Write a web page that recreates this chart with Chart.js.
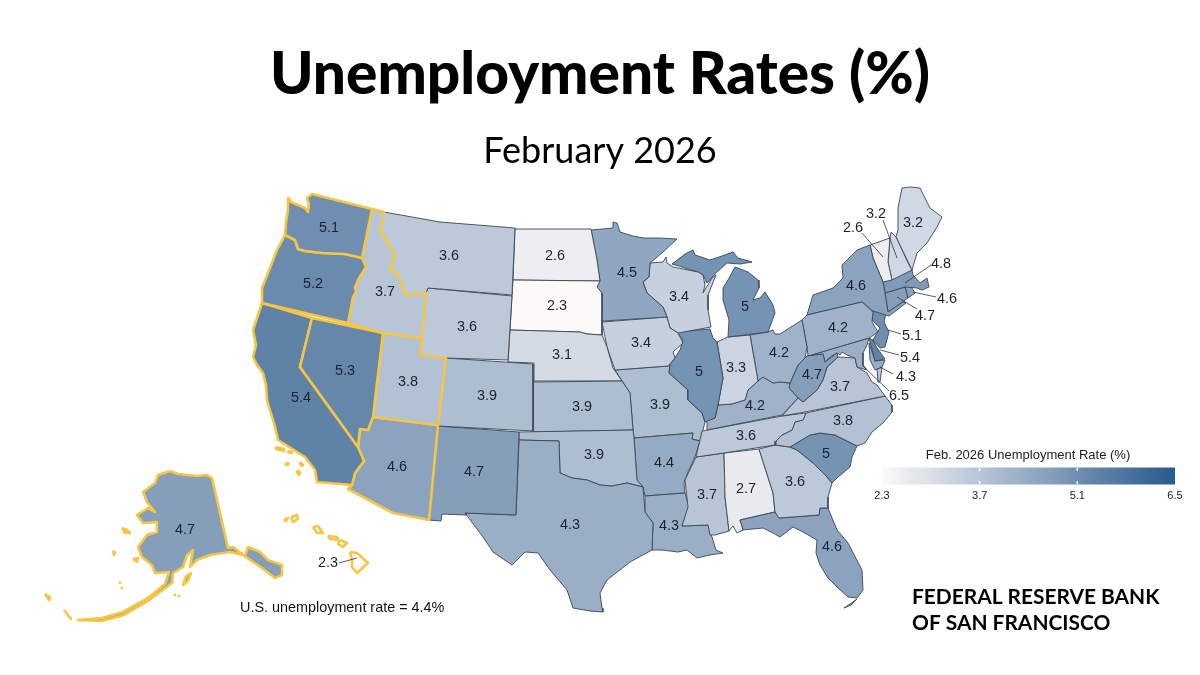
<!DOCTYPE html>
<html>
<head>
<meta charset="utf-8">
<style>
  html, body { margin: 0; padding: 0; background: #fff; }
  canvas { display: block; }
</style>
<script src="https://cdn.jsdelivr.net/npm/chart.js"></script>
</head>
<body>
<canvas id="map" width="1200" height="675"></canvas>
<script>
const WA = [[288,197],[291,202],[305,208],[308,212],[309,204],[307,198],[312,194],[372,209],[362,258],[345,254],[322,253],[305,251],[298,249],[295,240],[285,235],[286,222],[288,210]]
const OR = [[285,235],[295,240],[298,249],[305,251],[322,253],[345,254],[362,258],[366,267],[359,278],[355,287],[356,292],[353,297],[348,323],[262,303],[262,288],[268,273],[277,250]]
const ID = [[372,209],[384,212],[380,230],[395,255],[390,270],[397,273],[406,295],[426,293],[422,338],[383,333],[348,323],[353,297],[356,292],[355,287],[359,278],[366,267],[362,258]]
const MT = [[384,212],[440,222],[515,228],[512,295],[428,288],[426,293],[406,295],[397,273],[390,270],[395,255],[380,230]]
const WY = [[428,288],[512,296],[508,360],[446,358],[420,355],[422,338],[426,293]]
const NV = [[312,318],[383,333],[373,417],[368,430],[360,429],[358,447],[300,367]]
const UT = [[383,333],[422,338],[420,355],[446,358],[438,425],[373,417]]
const CO = [[446,358],[533,364],[533,431],[438,426]]
const CA = [[262,303],[312,318],[300,367],[358,447],[364,461],[355,473],[352,485],[317,482],[315,470],[305,457],[278,440],[275,427],[267,400],[266,385],[263,373],[257,365],[253,357],[256,345],[253,330]]
const CA_I1 = [[276,447],[284,449],[284,451],[276,449]]
const CA_I2 = [[288,451],[292,452],[292,453],[288,452]]
const CA_I3 = [[286,463],[288,463],[288,465],[286,465]]
const CA_I4 = [[300,462],[303,465],[302,466],[300,464]]
const CA_I5 = [[298,470],[300,473],[299,475],[297,472]]
const AZ = [[373,417],[438,425],[429,520],[393,513],[348,489],[352,485],[355,473],[364,461],[358,447],[360,429],[368,430]]
const NM = [[438,426],[519,432],[516,515],[465,513],[466,515],[442,514],[441,521],[429,520]]
const TX = [[519,440],[559,441],[560,473],[572,478],[587,480],[600,485],[612,486],[627,483],[643,487],[645,512],[653,523],[652,550],[630,562],[607,580],[600,593],[602,608],[603,612],[590,611],[573,608],[567,590],[550,570],[538,553],[525,552],[512,565],[493,552],[483,537],[465,513],[516,515]]
const OK = [[519,432],[633,430],[634,438],[637,480],[643,487],[627,483],[612,486],[600,485],[587,480],[572,478],[560,473],[559,441],[519,440]]
const KS = [[533,382],[622,381],[630,393],[633,430],[533,432]]
const NE = [[510,330],[580,332],[587,334],[602,335],[607,347],[613,368],[622,381],[534,381],[534,363],[508,362]]
const SD = [[513,280],[600,281],[597,287],[602,293],[602,335],[587,334],[580,332],[510,330]]
const ND = [[515,229],[591,229],[597,260],[600,281],[513,280]]
const MN = [[591,230],[613,228],[613,222],[617,223],[620,232],[633,236],[643,238],[660,238],[677,239],[663,252],[650,263],[649,277],[643,282],[647,293],[663,307],[667,317],[603,321],[602,293],[597,287],[600,281],[597,260]]
const IA = [[602,322],[667,317],[670,328],[678,333],[683,343],[673,352],[675,358],[668,366],[615,370],[607,347]]
const WI = [[650,263],[663,262],[666,257],[667,263],[673,267],[698,272],[703,275],[705,285],[703,293],[712,278],[716,275],[708,295],[708,310],[711,327],[678,333],[670,328],[667,317],[663,307],[647,293],[643,282],[649,277]]
const MI_U = [[672,264],[685,254],[693,250],[695,255],[710,260],[722,256],[733,252],[738,258],[752,262],[740,264],[727,263],[717,272],[707,283],[703,275],[698,272]]
const MI_L = [[735,267],[748,272],[758,280],[759,288],[753,300],[760,298],[765,292],[773,305],[775,313],[768,332],[728,337],[729,320],[723,300],[723,288],[728,280]]
const IL = [[677,332],[710,329],[713,338],[717,342],[723,378],[718,405],[715,418],[705,422],[702,413],[688,400],[688,390],[669,373],[670,365],[680,350],[683,340]]
const IN = [[717,342],[728,337],[750,335],[758,381],[748,390],[745,400],[732,404],[718,405],[723,378]]
const OH = [[750,335],[768,332],[773,330],[775,334],[780,334],[802,320],[807,347],[805,358],[798,365],[790,383],[780,382],[773,383],[763,377],[758,381]]
const KY = [[718,405],[732,404],[745,400],[748,390],[758,381],[763,377],[773,383],[780,382],[790,383],[789,388],[798,398],[782,415],[707,430],[707,420],[715,418]]
const WV = [[790,383],[798,365],[805,358],[807,356],[823,354],[825,362],[837,353],[838,357],[827,367],[823,380],[817,390],[803,402],[798,398],[789,388]]
const PA = [[802,320],[807,315],[862,302],[873,312],[872,322],[878,332],[869,338],[808,356],[807,347]]
const NY = [[807,315],[813,295],[833,288],[843,278],[842,265],[857,250],[870,245],[873,258],[883,282],[885,293],[888,312],[903,302],[906,303],[889,316],[873,311],[862,302]]
const VT = [[870,245],[890,238],[888,262],[892,280],[883,282],[873,258]]
const NH = [[891,232],[896,237],[910,267],[912,270],[892,280],[888,262],[890,238]]
const ME = [[898,230],[898,208],[902,188],[910,187],[920,188],[930,208],[942,217],[937,227],[927,243],[917,253],[912,270],[896,237]]
const MA = [[883,282],[912,270],[913,275],[920,283],[927,278],[929,287],[922,290],[917,288],[905,287],[885,293]]
const CT = [[885,293],[905,287],[908,298],[888,312]]
const RI = [[905,287],[910,285],[915,293],[908,298]]
const NJ = [[873,310],[886,313],[884,322],[889,332],[885,347],[880,348],[873,340],[880,328],[872,320]]
const DE = [[869,338],[873,340],[877,348],[885,359],[875,361]]
const MD_W = [[808,356],[869,338],[867,345],[863,353],[863,365],[867,370],[857,367],[855,358],[847,355],[842,352],[840,355],[837,353],[830,357],[825,362],[823,354]]
const MD_E = [[869,343],[875,361],[885,360],[882,367],[875,370],[870,360]]
const DC = [[856,356],[859,357],[858,360],[856,359]]
const VA = [[782,416],[798,398],[803,402],[817,390],[823,380],[827,367],[838,357],[855,358],[857,367],[867,373],[872,382],[877,385],[885,396],[805,412]]
const VA_E = [[877,369],[882,367],[880,382],[878,382]]
const TN = [[702,431],[782,416],[806,413],[803,420],[795,422],[792,430],[782,435],[776,441],[775,445],[724,453],[696,457],[700,440]]
const NC = [[806,413],[885,396],[892,405],[892,412],[883,423],[872,432],[865,443],[857,446],[835,435],[820,433],[810,435],[790,447],[775,445],[776,441],[782,435],[792,430],[795,422],[803,420]]
const SC = [[790,447],[810,435],[820,433],[835,435],[857,446],[852,457],[850,467],[837,478],[832,483],[827,477],[813,463],[797,450]]
const GA = [[759,449],[775,445],[790,447],[797,450],[813,463],[827,477],[832,483],[828,497],[828,508],[820,508],[819,515],[779,518],[775,512],[773,493]]
const FL = [[740,520],[775,512],[779,518],[819,515],[820,508],[828,508],[837,530],[848,543],[862,570],[863,590],[857,598],[848,597],[837,587],[828,578],[820,565],[816,553],[817,540],[803,532],[793,527],[780,537],[773,533],[763,528],[743,530],[742,526]]
const FL_K = [[844,608],[850,604],[857,599],[851,605]]
const AL = [[724,453],[759,449],[773,493],[775,512],[740,520],[742,526],[743,530],[737,533],[733,526],[729,531],[725,497]]
const MS = [[696,457],[724,453],[725,497],[729,531],[715,535],[710,535],[708,525],[682,526],[688,507],[685,480]]
const LA = [[645,496],[685,493],[689,507],[682,526],[708,525],[712,537],[716,550],[723,553],[710,555],[697,558],[687,550],[678,552],[662,550],[652,550],[653,523],[645,512]]
const AR = [[634,438],[693,433],[692,439],[700,441],[695,457],[688,472],[684,483],[685,493],[645,496],[643,487],[637,480]]
const MO = [[622,381],[615,370],[668,366],[670,365],[669,373],[688,390],[688,400],[702,413],[705,422],[703,430],[700,441],[692,439],[693,433],[634,438],[633,430],[630,393]]
const AK = [[170,471],[178,474],[187,475],[197,476],[207,475],[212,478],[228,548],[233,547],[245,556],[248,547],[260,552],[268,560],[282,565],[282,575],[275,578],[262,568],[243,555],[230,552],[210,555],[197,560],[190,567],[193,550],[187,555],[183,567],[173,573],[172,583],[160,592],[148,601],[124,615],[102,621],[78,620],[102,618],[123,612],[148,598],[165,584],[169,572],[155,573],[152,565],[142,557],[138,547],[147,535],[157,532],[157,522],[143,523],[137,515],[148,508],[155,512],[147,502],[143,492],[155,483],[158,475]]
const AK_I1 = [[122,528],[127,530],[130,533],[125,533]]
const AK_I2 = [[113,551],[115,553],[114,555]]
const AK_I3 = [[133,559],[138,558],[137,562]]
const AK_I4 = [[186,576],[191,573],[188,581],[183,585]]
const AK_I5 = [[119,582],[120,583]]
const AK_I6 = [[121,587],[122,588]]
const AK_I7 = [[45,594],[50,597],[49,600]]
const AK_I8 = [[64,610],[68,615],[71,619]]
const AK_I9 = [[174,594],[175,595]]
const AK_I10 = [[178,595],[179,596]]
const AK_I11 = [[252,556],[262,561],[272,570],[262,564]]
const HI_1 = [[350,552],[357,553],[368,563],[357,573],[352,567],[352,560]]
const HI_2 = [[340,540],[347,543],[343,547],[338,544]]
const HI_3 = [[328,536],[337,537],[338,540],[330,539]]
const HI_4 = [[313,527],[318,526],[323,533],[317,533]]
const HI_5 = [[291,517],[297,515],[298,519],[293,522]]
const HI_6 = [[284,520],[288,518],[286,521]]

const regionNames = ['WA','OR','ID','MT','WY','NV','UT','CO','CA','AZ','NM','TX','OK','KS','NE','SD','ND','MN','IA','WI','MI','IL','IN','OH','KY','WV','PA','NY','VT','NH','ME','MA','CT','RI','NJ','DE','MD','DC','VA','TN','NC','SC','GA','FL','AL','MS','LA','AR','MO','AK','HI']
const regionValues = [5.1,5.2,3.7,3.6,3.6,5.3,3.8,3.9,5.4,4.6,4.7,4.3,3.9,3.9,3.1,2.3,2.6,4.5,3.4,3.4,5,5,3.3,4.2,4.2,4.7,4.2,4.6,2.6,3.2,3.2,4.8,4.7,4.6,5.1,5.4,4.3,6.5,3.7,3.6,3.8,5,3.6,4.6,2.7,3.7,4.3,4.4,3.9,4.7,2.3]
const regionShapes = [[WA],[OR],[ID],[MT],[WY],[NV],[UT],[CO],[CA,CA_I1,CA_I2,CA_I3,CA_I4,CA_I5],[AZ],[NM],[TX],[OK],[KS],[NE],[SD],[ND],[MN],[IA],[WI],[MI_U,MI_L],[IL],[IN],[OH],[KY],[WV],[PA],[NY],[VT],[NH],[ME],[MA],[CT],[RI],[NJ],[DE],[MD_W,MD_E],[DC],[VA,VA_E],[TN],[NC],[SC],[GA],[FL,FL_K],[AL],[MS],[LA],[AR],[MO],[AK,AK_I1,AK_I2,AK_I3,AK_I4,AK_I5,AK_I6,AK_I7,AK_I8,AK_I9,AK_I10,AK_I11],[HI_1,HI_2,HI_3,HI_4,HI_5,HI_6]]
const district12 = ['WA','OR','ID','NV','UT','CA','AZ','AK','HI']

// value labels: [state, x, y]
const labelStates = ['WA','OR','CA','NV','ID','MT','WY','UT','CO','AZ','NM','ND','SD','NE','KS','OK','TX','MN','IA','MO','AR','LA','WI','IL','IN','MI','OH','KY','TN','MS','AL','GA','FL','SC','NC','VA','WV','PA','NY','ME','AK','VT','NH','MA','RI','CT','NJ','DE','MD','DC','HI']
const labelX = [329,313,301,345,385,449,467,408,487,397,474,555,557,562,582,594,570,627,641,660,664,669,679,699,736,745,779,755,746,707,746,795,832,826,843,840,812,838,856,913,185,853,876,941,947,925,912,910,906,899,328]
const labelY = [228,284,398,371,292,256,327,382,396,467,472,256,306,355,407,455,525,273,343,405,463,526,297,372,368,307,353,406,436,495,489,482,547,454,421,387,375,328,286,223,530,228,214,264,299,316,336,358,377,396,563]

// leader lines from the small states out to their labels
const leaderLines = [
  [[862,233],[883,257]], [[883,220],[897,258]], [[931,265],[905,283]], [[936,297],[913,292]],
  [[917,309],[897,297]], [[901,334],[888,330]], [[899,355],[880,350]], [[893,374],[880,367]],
  [[889,391],[862,365]], [[339,563],[357,558]]
]

const legendMin = 2.3
const legendMax = 6.5
const legendTicks = [2.3, 3.7, 5.1, 6.5]
const legendBar = [[882,476],[1175,476]]
const colorValues = [2.3, 3.6, 4.6, 5.4, 6.5]
const colorSteps = ['#fdf9f8', '#bcc9d9', '#8ba3be', '#5f83a7', '#275a8e']

function hexRgb(h) {
  return [parseInt(h.slice(1,3),16), parseInt(h.slice(3,5),16), parseInt(h.slice(5,7),16)]
}

function colorFor(v) {
  for (let i = 0; i < colorValues.length - 1; i++) {
    if (v <= colorValues[i+1]) {
      const t = (v - colorValues[i]) / (colorValues[i+1] - colorValues[i])
      const a = hexRgb(colorSteps[i]), b = hexRgb(colorSteps[i+1])
      return `rgb(${a.map((c, k) => Math.round(c + (b[k]-c)*t)).join(',')})`
    }
  }
  return colorSteps[colorSteps.length-1]
}

function toPoints(list) {
  return list.map(p => ({x: p[0], y: p[1]}))
}

const datasets = []

regionNames.forEach((name, i) => {
  const yellow = district12.includes(name)
  regionShapes[i].forEach(part => {
    const pts = toPoints(part)
    pts.push(pts[0])
    datasets.push({
      data: pts,
      closedShape: true,
      showLine: true,
      fill: false,
      backgroundColor: colorFor(regionValues[i]),
      borderColor: yellow ? '#f6c544' : '#3b4656',
      borderWidth: yellow ? 2.6 : 0.9,
      borderJoinStyle: 'round',
      pointRadius: 0,
      order: yellow ? 1 : 2
    })
  })
})

leaderLines.forEach(l => {
  datasets.push({
    data: toPoints(l),
    showLine: true,
    borderColor: '#333',
    borderWidth: 0.8,
    pointRadius: 0,
    order: 0
  })
})

// legend bar is a fat line, stroked with the same colour ramp
const gradient = document.createElement('canvas').getContext('2d').createLinearGradient(legendBar[0][0], 0, legendBar[1][0], 0)
for (let v = 0; v <= 20; v++) {
  const val = legendMin + (legendMax - legendMin) * v / 20
  gradient.addColorStop(v / 20, colorFor(val))
}
datasets.push({
  data: toPoints(legendBar),
  showLine: true,
  borderColor: gradient,
  borderWidth: 17,
  borderCapStyle: 'butt',
  pointRadius: 0,
  order: 0
})

function legendX(v) {
  return legendBar[0][0] + (v - legendMin) / (legendMax - legendMin) * (legendBar[1][0] - legendBar[0][0])
}

legendTicks.slice(1, 3).forEach(v => {
  [[468,471],[481,484]].forEach(r => {
    datasets.push({
      data: [{x: legendX(v), y: r[0]}, {x: legendX(v), y: r[1]}],
      showLine: true,
      borderColor: '#fff',
      borderWidth: 1,
      pointRadius: 0,
      order: -1
    })
  })
})

// chart.js has no closed polygon fill for scatter lines, so fill under the stroke here
const shapeFill = {
  id: 'shapeFill',
  beforeDatasetDraw(chart, args) {
    const ds = chart.data.datasets[args.index]
    if (!ds.closedShape) return
    const ctx = chart.ctx
    ctx.save()
    ctx.beginPath()
    args.meta.data.forEach((pt, i) => {
      if (i == 0) ctx.moveTo(pt.x, pt.y)
      else ctx.lineTo(pt.x, pt.y)
    })
    ctx.closePath()
    ctx.fillStyle = ds.backgroundColor
    ctx.fill()
    ctx.restore()
  }
}

const textLabels = {
  id: 'textLabels',
  afterDatasetsDraw(chart) {
    const {ctx, scales} = chart
    const X = scales.x, Y = scales.y
    ctx.save()
    ctx.textAlign = 'center'
    ctx.textBaseline = 'middle'
    ctx.fillStyle = '#1c2230'
    ctx.font = '14.4px "Liberation Sans"'
    labelStates.forEach((s, i) => {
      const val = regionValues[regionNames.indexOf(s)]
      ctx.fillText(String(val), X.getPixelForValue(labelX[i]), Y.getPixelForValue(labelY[i]))
    })

    ctx.fillStyle = '#222'
    ctx.font = '13px "Liberation Sans"'
    ctx.fillText('Feb. 2026 Unemployment Rate (%)', X.getPixelForValue(1028), Y.getPixelForValue(455))
    ctx.font = '11px "Liberation Sans"'
    legendTicks.forEach(v => {
      ctx.fillText(v.toFixed(1), X.getPixelForValue(legendX(v)), Y.getPixelForValue(496))
    })

    ctx.textAlign = 'left'
    ctx.fillStyle = '#111'
    ctx.font = '14.4px "Liberation Sans"'
    ctx.fillText('U.S. unemployment rate = 4.4%', X.getPixelForValue(240), Y.getPixelForValue(608))

    ctx.fillStyle = '#000'
    ctx.font = 'bold 20.9px Lato'
    ctx.fillText('FEDERAL RESERVE BANK', X.getPixelForValue(912), Y.getPixelForValue(597))
    ctx.fillText('OF SAN FRANCISCO', X.getPixelForValue(912), Y.getPixelForValue(623))
    ctx.restore()
  }
}

new Chart(document.getElementById('map'), {
  type: 'scatter',
  data: {datasets: datasets},
  plugins: [shapeFill, textLabels],
  options: {
    responsive: false,
    animation: false,
    layout: {padding: 0},
    scales: {
      x: {type: 'linear', display: false, min: 0, max: 1200},
      y: {type: 'linear', display: false, min: 175, max: 675, reverse: true}
    },
    plugins: {
      legend: {display: false},
      tooltip: {enabled: false},
      title: {
        display: true,
        text: 'Unemployment Rates (%)',
        color: '#000',
        font: {family: 'Lato', size: 58.6, weight: '900', lineHeight: 1.2},
        padding: {top: 40, bottom: 0}
      },
      subtitle: {
        display: true,
        text: 'February 2026',
        color: '#000',
        font: {family: 'Lato', size: 36, weight: 'normal', lineHeight: 1},
        padding: {top: 23, bottom: 5.68}
      }
    }
  }
})
</script>
</body>
</html>
